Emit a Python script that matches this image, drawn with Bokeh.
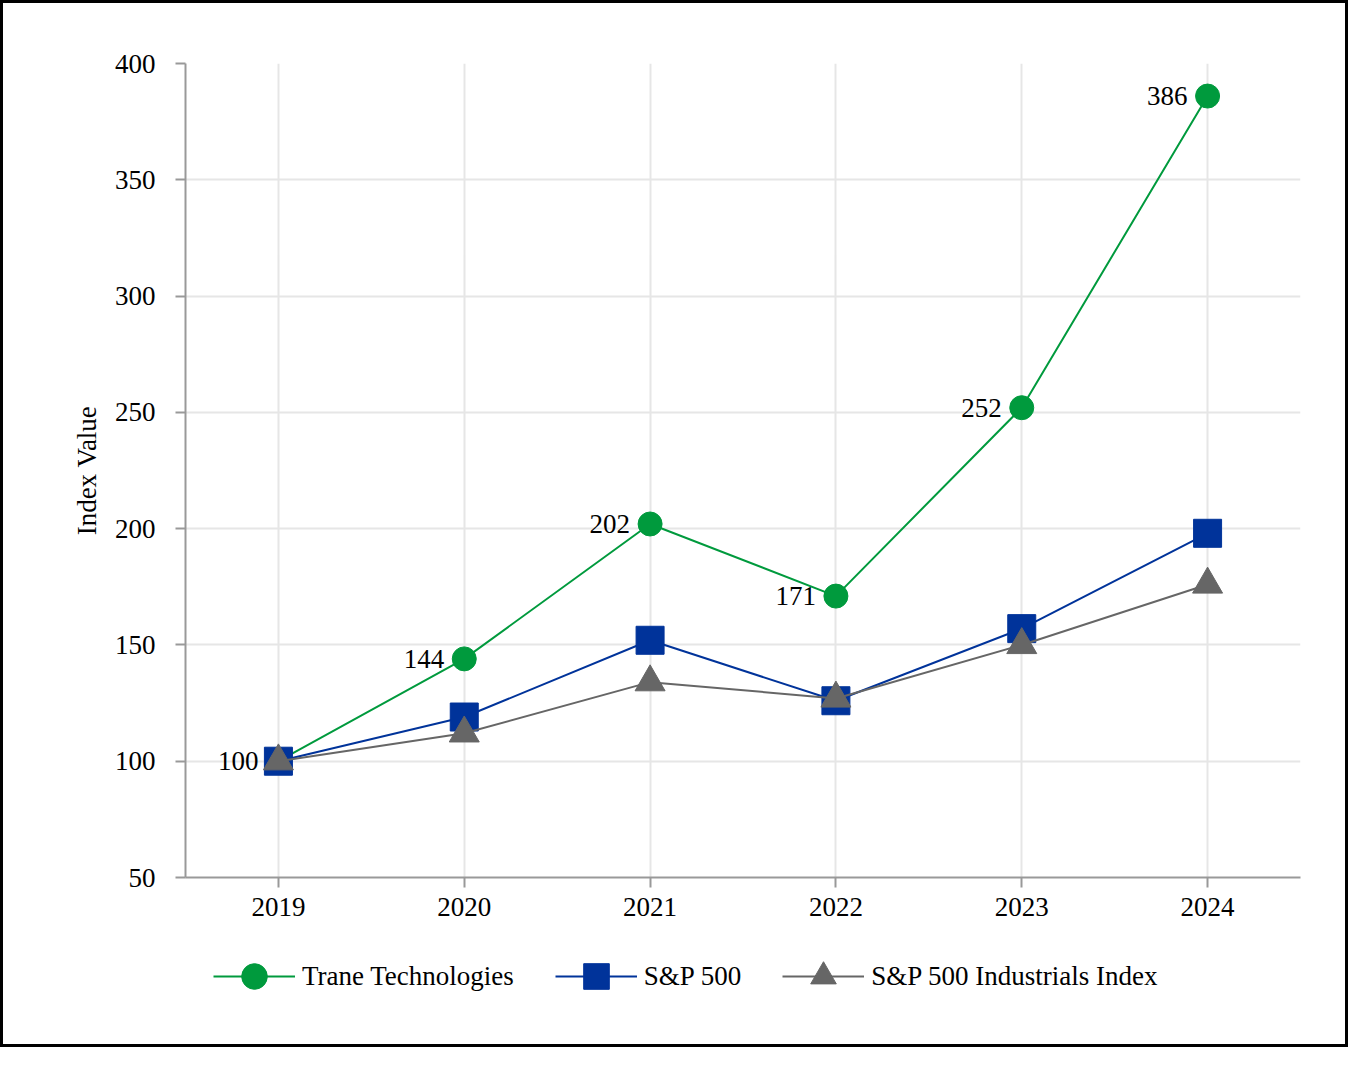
from bokeh.plotting import figure
from bokeh.models import Range1d, Legend, LegendItem, FixedTicker
from bokeh.layouts import column
from bokeh.core.properties import value
from bokeh.embed import file_html
from bokeh.resources import INLINE

years = ["2019", "2020", "2021", "2022", "2023", "2024"]
trane = [100, 144, 202, 171, 252, 386]
sp500 = [100, 119, 152, 126, 157, 198]
industrials = [100, 112, 134, 127, 150, 176]
trane_labels = ["100", "144", "202", "171", "252", "386"]
y_ticks = [50, 100, 150, 200, 250, 300, 350, 400]
series_names = ["Trane Technologies", "S&P 500", "S&P 500 Industrials Index"]

GREEN = "#009a3d"
BLUE = "#00339a"
GRAY = "#666666"
FONT = "Liberation Serif"
FS = "27px"

p = figure(x_range=years, y_range=Range1d(50, 400), frame_width=1115, frame_height=814,
           output_backend="svg", toolbar_location=None,
           min_border_left=182, min_border_right=45, min_border_top=60, min_border_bottom=55)
p.outline_line_color = None
p.background_fill_color = "white"

# grids
for g in (p.xgrid, p.ygrid):
    g.grid_line_color = "#e6e6e6"
    g.grid_line_width = 2
p.yaxis.ticker = FixedTicker(ticks=y_ticks)

for ax in (p.xaxis, p.yaxis):
    ax.axis_line_color = "#999999"
    ax.axis_line_width = 2
    ax.major_tick_line_color = "#999999"
    ax.major_tick_line_width = 2
    ax.major_tick_out = 10
    ax.major_tick_in = 0
    ax.minor_tick_line_color = None
    ax.major_label_text_font = FONT
    ax.major_label_text_font_size = FS
    ax.major_label_text_color = "black"
p.yaxis.major_label_standoff = 20
p.xaxis.major_label_standoff = 10
p.yaxis.axis_label = "Index Value"
p.yaxis.axis_label_text_font = FONT
p.yaxis.axis_label_text_font_size = FS
p.yaxis.axis_label_text_font_style = "normal"
p.yaxis.axis_label_text_color = "black"
p.yaxis.axis_label_standoff = 10

# series (green below, gray on top)
p.line(years, trane, line_color=GREEN, line_width=2)
p.scatter(years, trane, marker="circle", size=24, fill_color=GREEN, line_color=GREEN)
p.line(years, sp500, line_color=BLUE, line_width=2)
p.scatter(years, sp500, marker="square", size=28, fill_color=BLUE, line_color=BLUE)
p.line(years, industrials, line_color=GRAY, line_width=2)
p.scatter(years, industrials, marker="triangle", size=30, fill_color=GRAY, line_color=GRAY)

p.text(years, trane, text=trane_labels, x_offset=-20, text_align="right", text_baseline="middle",
       text_font=value(FONT), text_font_size=value(FS), text_color="black")

# legend strip below the chart
lg = figure(width=1342, height=112, x_range=Range1d(0, 1), y_range=Range1d(0, 1),
            output_backend="svg", toolbar_location=None,
            x_axis_location=None, y_axis_location=None,
            min_border=0, min_border_left=0, min_border_right=0, min_border_top=0, min_border_bottom=0)
lg.grid.visible = False
lg.outline_line_color = None
nan = [float("nan")]
items = []
for name, col, mk in zip(series_names, [GREEN, BLUE, GRAY], ["circle", "square", "triangle"]):
    rl = lg.line(nan, nan, line_color=col, line_width=2)
    rs = lg.scatter(nan, nan, marker=mk, size=24, fill_color=col, line_color=col)
    items.append(LegendItem(label=name, renderers=[rl, rs]))

legend = Legend(items=items, orientation="horizontal", location=(28, 36),
                glyph_width=82, glyph_height=64,
                label_text_font=FONT, label_text_font_size=FS, label_text_color="black",
                label_standoff=7, spacing=41,
                padding=0, margin=0, border_line_color=None, background_fill_alpha=0)
lg.add_layout(legend, "center")

layout = column(p, lg, spacing=0)
layout.styles = {"border": "3px solid black"}

open("out.html", "w").write(file_html(layout, INLINE))
